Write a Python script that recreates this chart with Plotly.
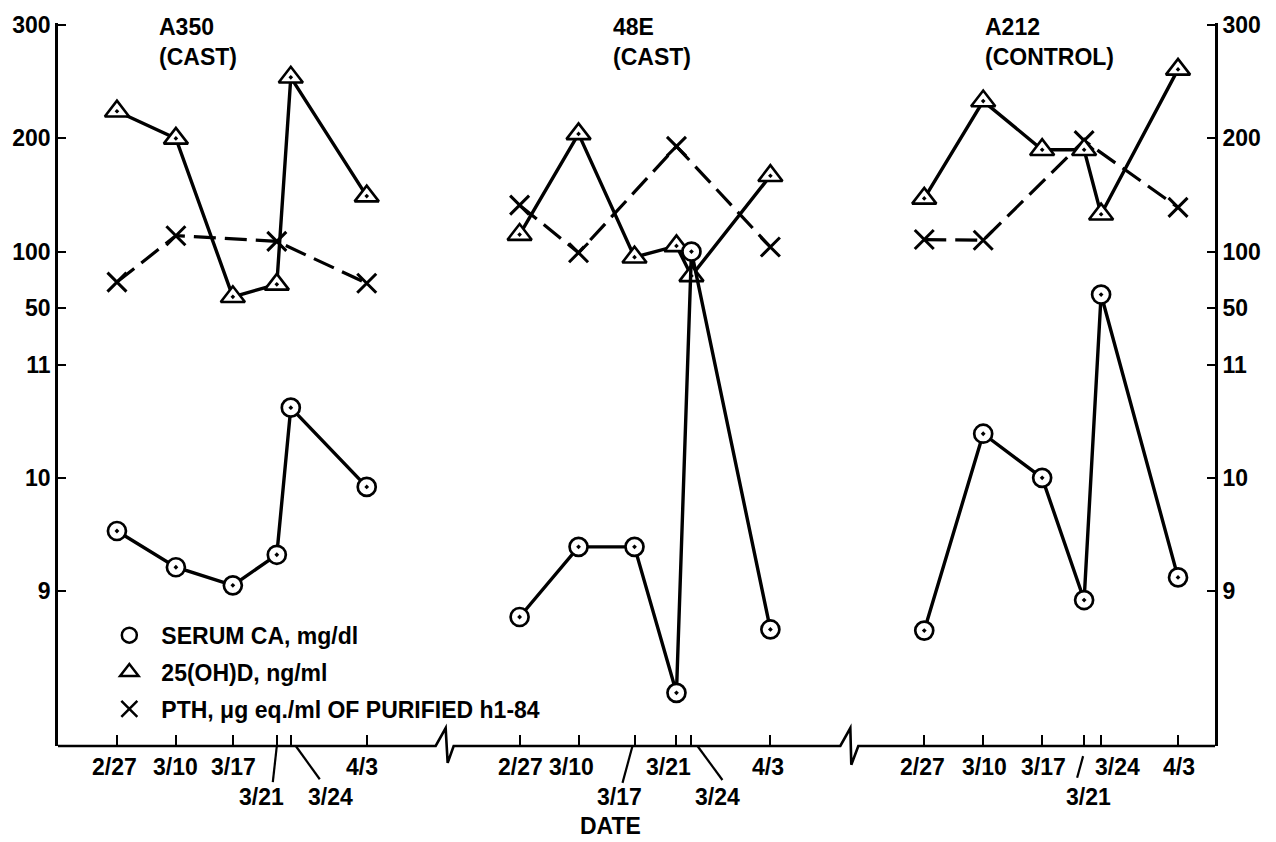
import plotly.graph_objects as go

# ---- data -------------------------------------------------------------
dates = ["2/27", "3/10", "3/17", "3/21", "3/24", "4/3"]
panels = ["A350<br>(CAST)", "48E<br>(CAST)", "A212<br>(CONTROL)"]

# serum calcium, mg/dl
ca_a350 = [9.53, 9.21, 9.05, 9.32, 10.62, 9.92]
ca_48e = [8.77, 9.39, 9.39, 8.10, 12.00, 8.66]
ca_a212 = [8.65, 10.39, 10.00, 8.92, 11.62, 9.12]

# 25(OH)D, ng/ml
vitd_a350 = [224, 200, 60, 71, 254, 149]
vitd_48e = [115, 204, 95, 105, 78.5, 167]
vitd_a212 = [147, 233, 190, 190, 133, 261]

# PTH, ug eq./ml (not sampled on 3/17 and 3/24)
pth_a350 = [73, 114, None, 109, None, 72]
pth_48e = [141, 99, None, 193, None, 104]
pth_a212 = [110.6, 110, None, 198, None, 139]

# axis tick values: broken scale, calcium below, ng/ml above
ca_ticks = [9, 10, 11]
upper_ticks = [50, 100, 200, 300]

# ---- layout helpers -----------------------------------------------------
# horizontal slot of each sampling date inside each panel (axis units)
slot_x = [
    [59, 118, 175, 219, 233, 309],
    [462, 521, 577, 619, 634, 713],
    [867, 926, 985, 1027, 1044, 1121],
]
# tick-label placement: (x centre, row) per date per panel
label_pos = [
    [(57, 0), (118, 0), (176, 0), (204, 1), (273, 1), (304, 0)],
    [(463, 0), (514, 0), (562, 1), (611, 0), (660, 1), (711, 0)],
    [(865, 0), (927, 0), (986, 0), (1031, 1), (1060, 0), (1122, 0)],
]
# leader strokes joining staggered labels to their ticks
leaders = [
    ((219, 0.0), (215, -0.050)),
    ((238, 0.0), (262, -0.046)),
    ((575, 0.0), (565, -0.051)),
    ((640, 0.0), (665, -0.047)),
    ((1026, -0.014), (1020, -0.044)),
]
title_x = [99, 553, 926]

X_MAX = 1158
Y_RANGE = [-3.37, 3.02]
FONT = "Liberation Sans, Arial, Helvetica, sans-serif"
FS = 23


def ca_plot(vals):
    return [None if v is None else v - 11 for v in vals]


def upper_plot(vals):
    return [None if v is None else v / 100 for v in vals]


tick_vals = ca_plot(ca_ticks) + upper_plot(upper_ticks)
tick_text = [str(t) for t in ca_ticks + upper_ticks]

ca_all = [ca_a350, ca_48e, ca_a212]
vitd_all = [vitd_a350, vitd_48e, vitd_a212]
pth_all = [pth_a350, pth_48e, pth_a212]

fig = go.Figure()

for i in range(3):
    xs = slot_x[i]
    fig.add_trace(go.Scatter(
        x=xs, y=upper_plot(pth_all[i]), mode="lines+markers", connectgaps=True,
        line=dict(color="black", width=3.2, dash="22px,9px"),
        marker=dict(symbol="x-thin", size=19, line=dict(color="black", width=3)),
        showlegend=False, hoverinfo="skip"))
    fig.add_trace(go.Scatter(
        x=xs, y=upper_plot(vitd_all[i]), mode="lines+markers",
        line=dict(color="black", width=3.4),
        marker=dict(symbol="triangle-up-dot", size=21, color="white",
                    line=dict(color="black", width=2.6)),
        showlegend=False, hoverinfo="skip"))
    fig.add_trace(go.Scatter(
        x=xs, y=ca_plot(ca_all[i]), mode="lines+markers",
        line=dict(color="black", width=3.4),
        marker=dict(symbol="circle-dot", size=18, color="white",
                    line=dict(color="black", width=2.7)),
        showlegend=False, hoverinfo="skip"))

# legend entries
legend_items = [
    ("SERUM CA, mg/dl", "circle-open", 15),
    ("25(OH)D, ng/ml", "triangle-up-open", 16),
    ("PTH, μg eq./ml OF PURIFIED h1-84", "x-thin-open", 16),
]
for k, (name, sym, sz) in enumerate(legend_items):
    fig.add_trace(go.Scatter(
        x=[None], y=[None], mode="markers", name=name, legendgroup=str(k),
        marker=dict(symbol=sym, size=sz, color="black",
                    line=dict(color="black", width=2.5))))

# empty trace so the right-hand axis is drawn
fig.add_trace(go.Scatter(x=[None], y=[None], yaxis="y2", showlegend=False,
                         hoverinfo="skip"))

shapes = []
# broken date axis
shapes.append(dict(
    type="path", xref="x", yref="paper",
    path=("M 0,0 L 378,0 L 388,0.0248 L 390,-0.0234 L 396,0 "
          "L 783,0 L 793,0.0248 L 794,-0.026 L 801,0 L 1158,0"),
    line=dict(color="black", width=2.6)))
for (x0, y0), (x1, y1) in leaders:
    shapes.append(dict(type="line", xref="x", yref="paper", x0=x0, y0=y0,
                       x1=x1, y1=y1, line=dict(color="black", width=2.2)))

annotations = []
lab_font = dict(family=FONT, size=FS, color="black", weight="bold")
for i in range(3):
    for d, (lx, row) in zip(dates, label_pos[i]):
        annotations.append(dict(
            x=lx, y=0, xref="x", yref="paper", text=d, showarrow=False,
            xanchor="center", yanchor="middle", yshift=-21 - 30 * row,
            font=lab_font))
    annotations.append(dict(
        x=title_x[i], y=1, xref="x", yref="paper", text=panels[i],
        showarrow=False, xanchor="left", yanchor="top", align="left",
        yshift=11, font=lab_font))
annotations.append(dict(
    x=553, y=0, xref="x", yref="paper", text="DATE", showarrow=False,
    xanchor="center", yanchor="middle", yshift=-80, font=lab_font))

axis_common = dict(
    range=Y_RANGE, tickvals=tick_vals, ticktext=tick_text, ticks="inside",
    ticklen=8, tickwidth=2, tickcolor="black", showline=True, linewidth=2.6,
    linecolor="black", showgrid=False, zeroline=False,
    tickfont=dict(family=FONT, size=FS, color="black", weight="bold"))

fig.update_layout(
    width=1276, height=842,
    margin=dict(l=57, r=61, t=20, b=96),
    plot_bgcolor="white", paper_bgcolor="white",
    xaxis=dict(range=[0, X_MAX], showgrid=False, zeroline=False,
               showline=False, ticks="inside", ticklen=11, tickwidth=2,
               tickcolor="black", tickvals=[x for p in slot_x for x in p],
               showticklabels=False),
    yaxis=dict(**axis_common),
    yaxis2=dict(**axis_common, overlaying="y", side="right"),
    legend=dict(x=0.034, y=0.183, xanchor="left", yanchor="top",
                bgcolor="rgba(0,0,0,0)", tracegroupgap=4,
                traceorder="grouped", itemwidth=54,
                font=dict(family=FONT, size=FS, color="black", weight="bold")),
    shapes=shapes,
    annotations=annotations,
)

fig.write_html("out.html")
